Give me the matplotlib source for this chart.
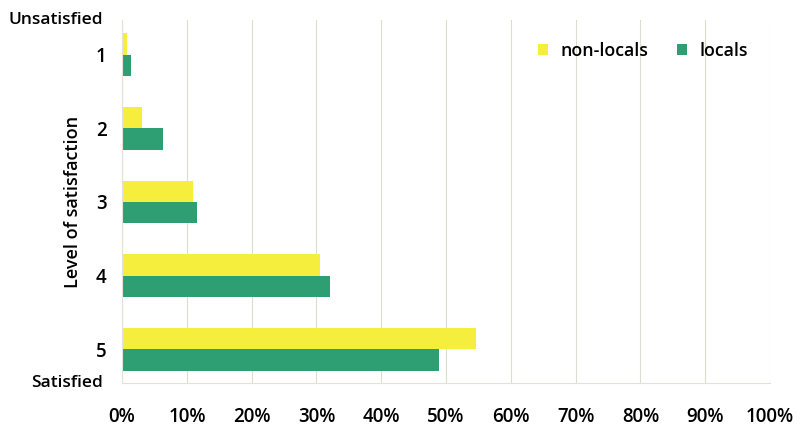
import matplotlib
matplotlib.use("Agg")
import matplotlib.pyplot as plt
import numpy as np

plt.rcParams['font.family'] = ['Open Sans', 'DejaVu Sans']

levels = ["1", "2", "3", "4", "5"]
non_locals = [0.8, 3.1, 11.0, 30.6, 54.6]
locals_ = [1.4, 6.3, 11.5, 32.1, 48.9]
xticks = [0, 10, 20, 30, 40, 50, 60, 70, 80, 90, 100]
xtick_labels = [f"{v}%" for v in xticks]

yellow = "#F6EE3C"
green = "#2E9F72"

fig = plt.figure(figsize=(8.03, 4.28), dpi=100)
ax = fig.add_axes([0.152, 0.105, 0.807, 0.848])

y = np.arange(1, len(levels) + 1)
h = 0.29
ax.barh(y - h / 2, non_locals, height=h, color=yellow, label="non-locals")
ax.barh(y + h / 2, locals_, height=h, color=green, label="locals")

ax.set_xlim(0, 100)
ax.set_ylim(5.46, 0.53)
ax.set_xticks(xticks)
ax.set_xticklabels(xtick_labels, fontsize=13.5, fontweight='semibold')
ax.set_yticks(y)
ax.set_yticklabels(levels, fontsize=13.5, fontweight='semibold')
ax.tick_params(axis='both', length=0)
ax.tick_params(axis='x', pad=17)
ax.tick_params(axis='y', pad=11)
ax.grid(axis='x', color='#dcdcd0', linewidth=0.8)
ax.set_axisbelow(True)
for s in ['top', 'right']:
    ax.spines[s].set_visible(False)
for s in ['left', 'bottom']:
    ax.spines[s].set_color('#e2e2d8')
    ax.spines[s].set_linewidth(0.8)

ax.set_ylabel("Level of satisfaction", fontsize=13, fontweight='semibold', labelpad=10)

ax.text(-0.029, 1.0, "Unsatisfied", transform=ax.transAxes, ha='right', va='center',
        fontsize=12.5, fontweight='semibold')
ax.text(-0.029, 0.0, "Satisfied", transform=ax.transAxes, ha='right', va='center',
        fontsize=12.5, fontweight='semibold')

leg = ax.legend(loc='upper right', bbox_to_anchor=(0.99, 0.985), ncol=2, frameon=False,
                handlelength=0.55, handleheight=0.55, columnspacing=1.6, handletextpad=0.7,
                prop={'size': 12.8, 'weight': 'semibold'})

fig.savefig("out.png", dpi=100)
